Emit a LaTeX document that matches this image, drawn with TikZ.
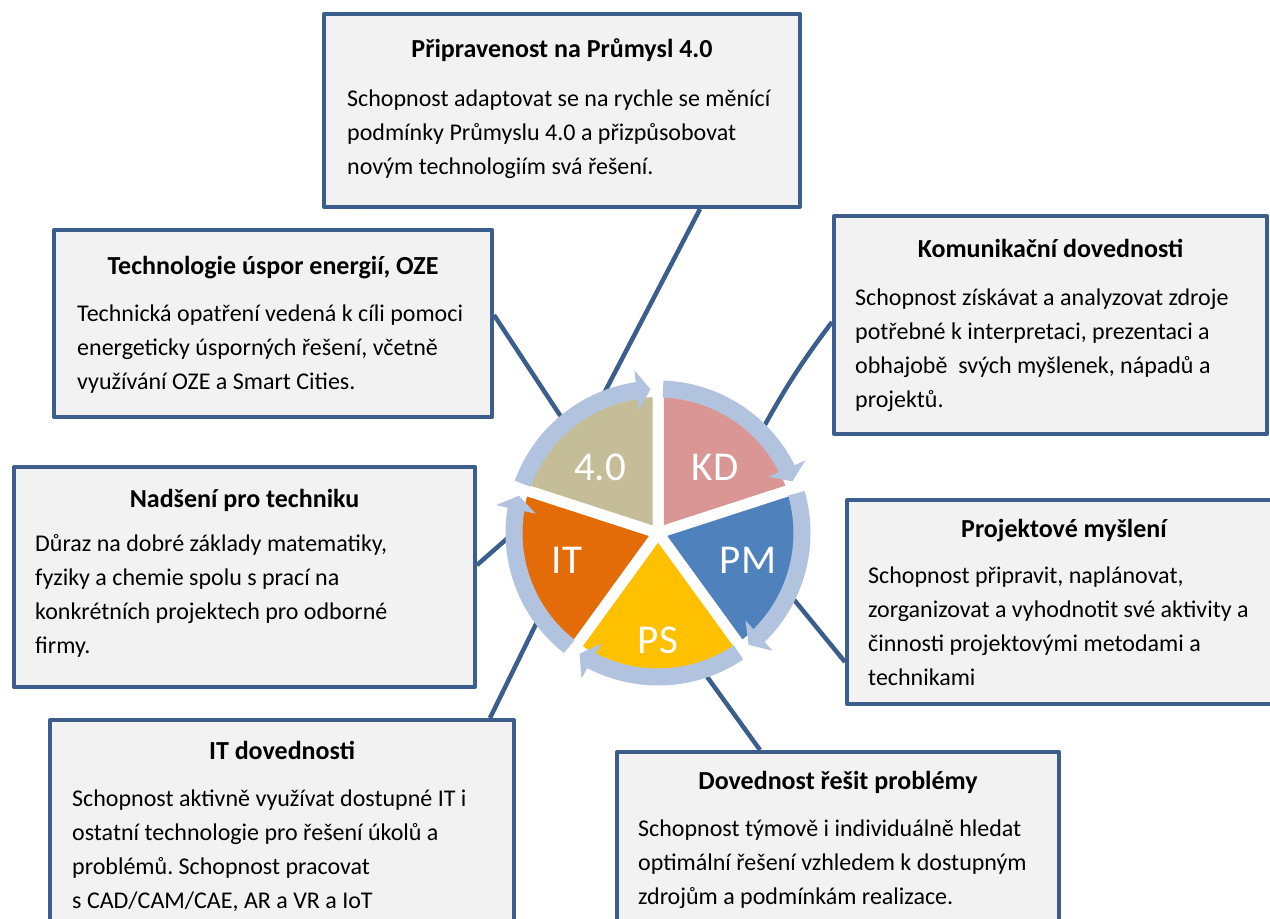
\documentclass[tikz,border=0pt]{standalone}
\usepackage{fontspec}
\setmainfont{Carlito}
\frenchspacing
\usetikzlibrary{calc,arrows.meta,bending}
\definecolor{boxblue}{HTML}{3B5E8C}
\definecolor{boxgray}{HTML}{F2F2F2}
\definecolor{ringblue}{HTML}{B2C3DF}
\definecolor{cfour}{HTML}{C4BD97}
\definecolor{ckd}{HTML}{D99694}
\definecolor{cpm}{HTML}{4F81BD}
\definecolor{cps}{HTML}{FFC000}
\definecolor{cit}{HTML}{E36C09}
\begin{document}
\begin{tikzpicture}[x=1pt,y=1pt,line join=round,
    box/.style={rectangle,draw=boxblue,fill=boxgray,line width=4pt,inner sep=0pt,anchor=north west},
    ttl/.style={anchor=base,inner sep=0pt,font=\fontsize{26}{30}\selectfont\bfseries},
    txt/.style={anchor=north west,inner sep=0pt,align=left,font=\fontsize{24}{34}\selectfont},
    link/.style={draw=boxblue,line width=4.5pt},
    seg/.style={draw=ringblue,line width=17pt,-{Triangle[length=14pt,width=40pt]}},
    lbl/.style={text=white,inner sep=0pt,text depth=0pt,font=\fontsize{41}{41}\selectfont}]
    \useasboundingbox (0,0) rectangle (1270,919);
    \clip (0,0) rectangle (1270,919);
    \coordinate (c) at (658,386);
    % boxes
    \node[box,minimum width=476pt,minimum height=193pt] (prip) at (322,907) {};
    \node[ttl] (prip-t) at ($(prip.north)+(0,-46)$) {Připravenost na Průmysl 4.0};
    \node[txt] (prip-b) at ($(prip.north west)+(25,-76)$) {\rule{0pt}{18pt}Schopnost adaptovat se na rychle se měnící\\podmínky Průmyslu 4.0 a přizpůsobovat\\novým technologiím svá řešení.};
    \node[box,minimum width=438pt,minimum height=187pt] (tech) at (52,691) {};
    \node[ttl] (tech-t) at ($(tech.north)+(0,-47)$) {Technologie úspor energií, OZE};
    \node[txt] (tech-b) at ($(tech.north west)+(25,-75)$) {\rule{0pt}{18pt}Technická opatření vedená k cíli pomoci\\energeticky úsporných řešení, včetně\\využívání OZE a Smart Cities.};
    \node[box,minimum width=433pt,minimum height=218pt] (kom) at (832,705) {};
    \node[ttl] (kom-t) at ($(kom.north)+(0,-44)$) {Komunikační dovednosti};
    \node[txt] (kom-b) at ($(kom.north west)+(23,-73)$) {\rule{0pt}{18pt}Schopnost získávat a analyzovat zdroje\\potřebné k interpretaci, prezentaci a\\obhajobě~ svých myšlenek, nápadů a\\projektů.};
    \node[box,minimum width=461pt,minimum height=220pt] (nad) at (12,454) {};
    \node[ttl] (nad-t) at ($(nad.north)+(0,-43)$) {Nadšení pro techniku};
    \node[txt] (nad-b) at ($(nad.north west)+(23,-68)$) {\rule{0pt}{18pt}Důraz na dobré základy matematiky,\\fyziky a chemie spolu s prací na\\konkrétních projektech pro odborné\\firmy.};
    \node[box,minimum width=434pt,minimum height=204pt] (proj) at (845,421) {};
    \node[ttl] (proj-t) at ($(proj.north)+(0,-40)$) {Projektové myšlení};
    \node[txt] (proj-b) at ($(proj.north west)+(23,-67)$) {\rule{0pt}{18pt}Schopnost připravit, naplánovat,\\zorganizovat a vyhodnotit své aktivity a\\činnosti projektovými metodami a\\technikami};
    \node[box,minimum width=442pt,minimum height=200pt] (dov) at (615,169) {};
    \node[ttl] (dov-t) at ($(dov.north)+(0,-40)$) {Dovednost řešit problémy};
    \node[txt] (dov-b) at ($(dov.north west)+(23,-68)$) {\rule{0pt}{18pt}Schopnost týmově i individuálně hledat\\optimální řešení vzhledem k dostupným\\zdrojům a podmínkám realizace.};
    \node[box,minimum width=464pt,minimum height=230pt] (it) at (48,201) {};
    \node[ttl] (it-t) at ($(it.north)+(0,-42)$) {IT dovednosti};
    \node[txt] (it-b) at ($(it.north west)+(24,-70)$) {\rule{0pt}{18pt}Schopnost aktivně využívat dostupné IT i\\ostatní technologie pro řešení úkolů a\\problémů. Schopnost pracovat\\s CAD/CAM/CAE, AR a VR a IoT};
    % connectors
    \draw[link] ($(prip.south west)+(378,0)$) -- ($(c)+(111:150)$);
    \draw[link] ($(tech.north east)+(0,-87)$) -- ($(c)+(130:148)$);
    \draw[link] ($(kom.north west)+(0,-108)$) to[bend right=4] ($(c)+(45:149)$);
    \draw[link] ($(proj.north west)+(0,-164)$) -- ($(c)+(-25.5:148)$);
    \draw[link] ($(dov.north west)+(145,0)$) -- ($(c)+(-71.5:149)$);
    \draw[link] ($(it.north west)+(442,0)$) -- ($(c)+(-143.7:150)$);
    \draw[link] ($(nad.north east)+(0,-100)$) -- ($(c)+(181.5:149)$);
    % pie
    \foreach \a/\col in {18/ckd,-54/cpm,-126/cps,162/cit,90/cfour}
      \filldraw[fill=\col,draw=white,line width=11pt,line join=miter] (c) -- ($(c)+(\a:141.5)$) arc[start angle=\a,delta angle=72,radius=141.5] -- cycle;
    \foreach \s/\e in {88/21,16/-51,-56/-123,-128/-195,160/93}
      \draw[seg] ($(c)+(\s:144)$) arc[start angle=\s,end angle=\e,radius=144];
    \node[lbl] (kd) at ($(c)+(57,66)$) {KD};
    \node[lbl] (four) at ($(c)+(-58,66)$) {4.0};
    \node[lbl] (pm) at ($(c)+(90,-27)$) {PM};
    \node[lbl] (itl) at ($(c)+(-91,-27)$) {IT};
    \node[lbl] (ps) at ($(c)+(0,-107)$) {PS};
\end{tikzpicture}
\end{document}
